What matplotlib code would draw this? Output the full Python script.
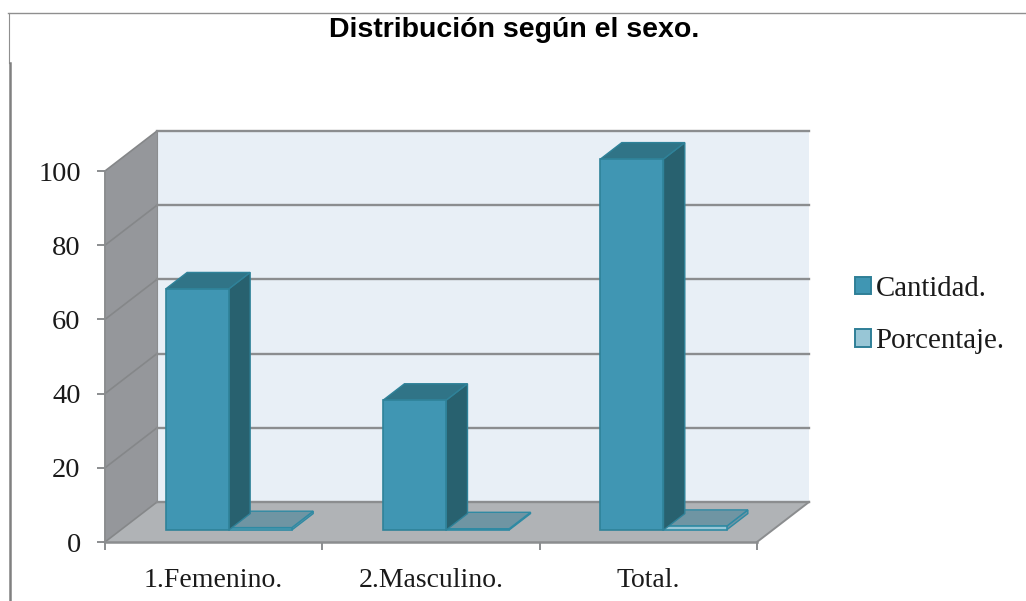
import matplotlib
matplotlib.use("Agg")
import matplotlib.pyplot as plt
from matplotlib.patches import Patch
from matplotlib.lines import Line2D

title = "Distribución según el sexo."
categories = ["1.Femenino.", "2.Masculino.", "Total."]
cantidad = [65, 35, 100]
porcentaje = [0.65, 0.35, 1.0]
series_names = ["Cantidad.", "Porcentaje."]
y_ticks = [0, 20, 40, 60, 80, 100]

W, H = 1026, 601
fig = plt.figure(figsize=(W / 100, H / 100), dpi=100, facecolor="white")
# plot box in pixels: x 105..810, y 542..131
ax = fig.add_axes([105 / W, 1 - 542 / H, 705 / W, 411 / H])
PX_X = 652 / 3
PX_Y = 371 / 100
ax.set_xlim(0, 705 / PX_X)
ax.set_ylim(0, 411 / PX_Y)
ax.patch.set_visible(False)
for s in ax.spines.values():
    s.set_visible(False)

DX = 52 / PX_X   # depth in category units
DY = 40 / PX_Y   # depth in value units
GRID = "#8b8d8f"


def P(x, y, t):
    return (x + t * DX, y + t * DY)


def poly(pts, fc, ec="none", lw=0.0, z=1):
    xs, ys = zip(*pts)
    ax.fill(xs, ys, facecolor=fc, edgecolor=ec, linewidth=lw, zorder=z, clip_on=False)


n = len(categories)
top = y_ticks[-1]
# walls and floor
poly([P(0, 0, 1), P(n, 0, 1), P(n, top, 1), P(0, top, 1)], "#e8eff6", z=1)
poly([P(0, 0, 0), P(0, 0, 1), P(0, top, 1), P(0, top, 0)], "#95979b", z=1)
poly([P(0, 0, 0), P(n, 0, 0), P(n, 0, 1), P(0, 0, 1)], "#b0b3b6", z=1)

# gridlines
for v in y_ticks:
    a, b, c = P(0, v, 0), P(0, v, 1), P(n, v, 1)
    ax.plot([a[0], b[0]], [a[1], b[1]], color="#858789", lw=1.2, zorder=2, clip_on=False)
    ax.plot([b[0], c[0]], [b[1], c[1]], color=GRID, lw=1.7, zorder=2, clip_on=False)
ax.plot([P(0, 0, 1)[0], P(0, top, 1)[0]], [P(0, 0, 1)[1], P(0, top, 1)[1]], color=GRID, lw=0.8, zorder=2, clip_on=False)
ax.plot([0, n], [0, 0], color=GRID, lw=1.8, zorder=3, clip_on=False)
ax.plot([0, 0], [0, top], color=GRID, lw=1.4, zorder=3, clip_on=False)
ax.plot([n, n + DX], [0, DY], color=GRID, lw=1.4, zorder=3, clip_on=False)


def bar3d(x0, w, v, front, topc, side, edge, z):
    t0, t1 = 0.30, 0.71
    x1 = x0 + w
    poly([P(x1, 0, t0), P(x1, 0, t1), P(x1, v, t1), P(x1, v, t0)], side, edge, 1.0, z)
    poly([P(x0, v, t0), P(x1, v, t0), P(x1, v, t1), P(x0, v, t1)], topc, edge, 1.0, z)
    poly([P(x0, 0, t0), P(x1, 0, t0), P(x1, v, t0), P(x0, v, t0)], front, edge, 1.2, z + 0.1)


BAR_W = 0.29
for i in range(n):
    x0 = i + 0.208
    bar3d(x0 + BAR_W, BAR_W, porcentaje[i], "#98c6d6", "#6f95a3", "#6f95a3", "#2f8aa3", 4)
    bar3d(x0, BAR_W, cantidad[i], "#4096b3", "#307487", "#28616f", "#2f8299", 5)

# axes ticks and labels
LABEL = ["Liberation Serif", "DejaVu Serif"]
ax.set_yticks(y_ticks)
ax.set_xticks(range(n + 1))
ax.set_xticklabels([""] * (n + 1))
ax.set_xticks([i + 0.5 for i in range(n)], minor=True)
ax.set_xticklabels(categories, minor=True, fontsize=20, family=LABEL, color="#1a1a1a")
ax.tick_params(axis="x", which="major", length=5.5, width=1.4, color=GRID)
ax.tick_params(axis="x", which="minor", length=0, pad=19)
ax.tick_params(axis="y", length=5.5, width=1.4, color=GRID, pad=12, labelsize=20.5, labelcolor="#1a1a1a")
for t in ax.get_yticklabels():
    t.set_family(LABEL)

# outer frame (cropped chart border)
FRAME = "#8f8f8f"
fig.add_artist(Line2D([8 / W, 1], [1 - 13 / H, 1 - 13 / H], color=FRAME, lw=1.0))
fig.add_artist(Line2D([8.5 / W, 8.5 / W], [1 - 13 / H, 1 - 63 / H], color=FRAME, lw=0.8))
fig.add_artist(Line2D([9.5 / W, 9.5 / W], [1 - 63 / H, 0], color="#808080", lw=1.8))

fig.text(514.5 / W, 1 - 30 / H, title, ha="center", va="center", fontsize=20.5,
         fontweight="bold", family="Liberation Sans", color="black")

handles = [Patch(facecolor="#4096b3", edgecolor="#2f7f97", linewidth=1.4),
           Patch(facecolor="#98c6d6", edgecolor="#2f7f97", linewidth=1.4)]
fig.legend(handles, series_names, loc="center left", bbox_to_anchor=(855 / W, 1 - 315 / H),
           frameon=False, prop={"family": LABEL, "size": 20.8}, handlelength=0.54, handleheight=0.54,
           handletextpad=0.17, labelspacing=0.92, labelcolor="#1a1a1a", borderpad=0, borderaxespad=0)

fig.savefig("out.png", dpi=100)
